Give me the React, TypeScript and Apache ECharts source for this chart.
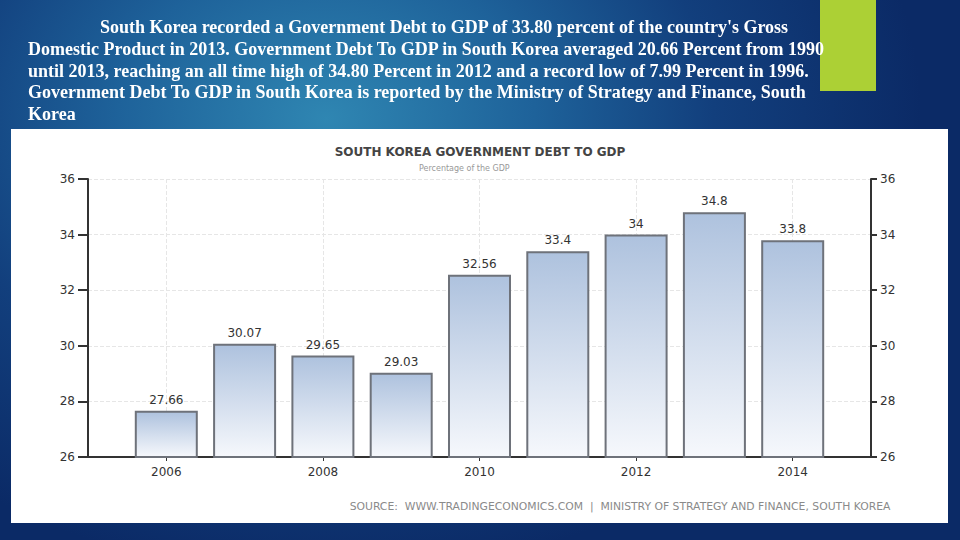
import React, { useEffect, useRef } from 'react';
import * as echarts from 'echarts';

const years = ['2006', '2007', '2008', '2009', '2010', '2011', '2012', '2013', '2014'];
const debtToGdp = [27.66, 30.07, 29.65, 29.03, 32.56, 33.4, 34, 34.8, 33.8];
const yMin = 26;
const yMax = 36;
const yStep = 2;

const chartTitle = 'SOUTH KOREA GOVERNMENT DEBT TO GDP';
const chartSubtitle = 'Percentage of the GDP';
const sourceText = 'SOURCE:  WWW.TRADINGECONOMICS.COM  |  MINISTRY OF STRATEGY AND FINANCE, SOUTH KOREA';
const paragraphLines = [
  "South Korea recorded a Government Debt to GDP of 33.80 percent of the country's Gross",
  'Domestic Product in 2013. Government Debt To GDP in South Korea averaged 20.66 Percent from 1990',
  'until 2013, reaching an all time high of 34.80 Percent in 2012 and a record low of 7.99 Percent in 1996.',
  'Government Debt To GDP in South Korea is reported by the Ministry of Strategy and Finance, South',
  'Korea',
];

export default function App() {
  const ref = useRef<HTMLDivElement>(null);

  useEffect(() => {
    if (!ref.current) return;
    const chart = echarts.init(ref.current, undefined, { renderer: 'svg' });

    const first = parseInt(years[0], 10) - 1;
    const last = parseInt(years[years.length - 1], 10) + 1;
    const cats = [String(first), ...years, String(last)];
    const vals: (number | string)[] = ['-', ...debtToGdp, '-'];
    const showEven = (i: number) => i % 2 === 1;

    const font = '"DejaVu Sans", Verdana, sans-serif';
    const lineYs = [27, 49, 71, 92, 114];

    chart.setOption({
      animation: false,
      backgroundColor: 'transparent',
      textStyle: { fontFamily: font },
      title: [
        {
          text: chartTitle,
          left: 'center',
          top: 141,
          textStyle: { fontSize: 12, fontWeight: 'bold', color: '#444', fontFamily: font },
        },
        {
          text: chartSubtitle,
          left: 414,
          top: 159,
          textStyle: { fontSize: 8, fontWeight: 'normal', color: '#999', fontFamily: font },
        },
      ],
      grid: { left: 88, right: 89, top: 179, bottom: 83 },
      xAxis: {
        type: 'category',
        data: cats,
        boundaryGap: false,
        axisLine: { lineStyle: { color: '#333', width: 2 } },
        axisTick: { show: true, length: 4, interval: showEven, lineStyle: { color: '#333' } },
        axisLabel: { interval: showEven, color: '#333', fontSize: 12, margin: 9 },
        splitLine: { show: true, interval: showEven, lineStyle: { color: '#e6e6e6', type: 'dashed' } },
      },
      yAxis: [
        {
          type: 'value',
          position: 'left',
          min: yMin,
          max: yMax,
          interval: yStep,
          axisLine: { show: true, lineStyle: { color: '#333', width: 2 } },
          axisTick: { show: true, length: 10, lineStyle: { color: '#333', width: 2 } },
          axisLabel: { color: '#333', fontSize: 12, margin: 13 },
          splitLine: { show: true, lineStyle: { color: '#e6e6e6', type: 'dashed' } },
        },
        {
          type: 'value',
          position: 'right',
          min: yMin,
          max: yMax,
          interval: yStep,
          axisLine: { show: true, lineStyle: { color: '#333', width: 2 } },
          axisTick: { show: true, length: 6, lineStyle: { color: '#333', width: 2 } },
          axisLabel: { color: '#333', fontSize: 12, margin: 9 },
          splitLine: { show: false },
        },
      ],
      series: [
        {
          type: 'bar',
          data: vals,
          barWidth: 63,
          yAxisIndex: 0,
          itemStyle: {
            borderColor: '#6e727a',
            borderWidth: 2,
            color: new echarts.graphic.LinearGradient(0, 0, 0, 1, [
              { offset: 0, color: '#aec2de' },
              { offset: 1, color: '#f6f8fc' },
            ]),
          },
          label: {
            show: true,
            position: 'top',
            distance: 5,
            color: '#333',
            fontSize: 12,
            fontFamily: font,
          },
        },
      ],
      graphic: [
        {
          type: 'rect',
          shape: { x: 820, y: 0, width: 56, height: 91 },
          style: { fill: '#acd035' },
          z: 1,
        },
        ...paragraphLines.map((t, i) => ({
          type: 'text',
          x: i === 0 ? 100 : 28,
          y: lineYs[i],
          z: 5,
          style: {
            text: t,
            fill: '#ffffff',
            fontSize: 18,
            fontWeight: 'bold',
            fontFamily: '"Liberation Serif", "Times New Roman", serif',
            verticalAlign: 'middle',
          },
        })),
        {
          type: 'text',
          x: 620,
          y: 506,
          style: {
            text: sourceText,
            fill: '#8a8a8a',
            fontSize: 10.8,
            fontFamily: font,
            align: 'center',
            verticalAlign: 'middle',
          },
        },
      ],
    });

    return () => chart.dispose();
  }, []);

  return (
    <div
      style={{
        position: 'fixed',
        left: 0,
        top: 0,
        width: 960,
        height: 540,
        overflow: 'hidden',
        background:
          'radial-gradient(ellipse 62% 85% at 34% 22%, #2f86b2 0%, #1e629a 35%, #123f7d 65%, #0b2a66 100%)',
      }}
    >
      <div
        style={{
          position: 'absolute',
          left: 11,
          top: 129,
          width: 937,
          height: 394,
          background: '#ffffff',
        }}
      />
      <div ref={ref} style={{ position: 'absolute', left: 0, top: 0, width: 960, height: 540 }} />
    </div>
  );
}
